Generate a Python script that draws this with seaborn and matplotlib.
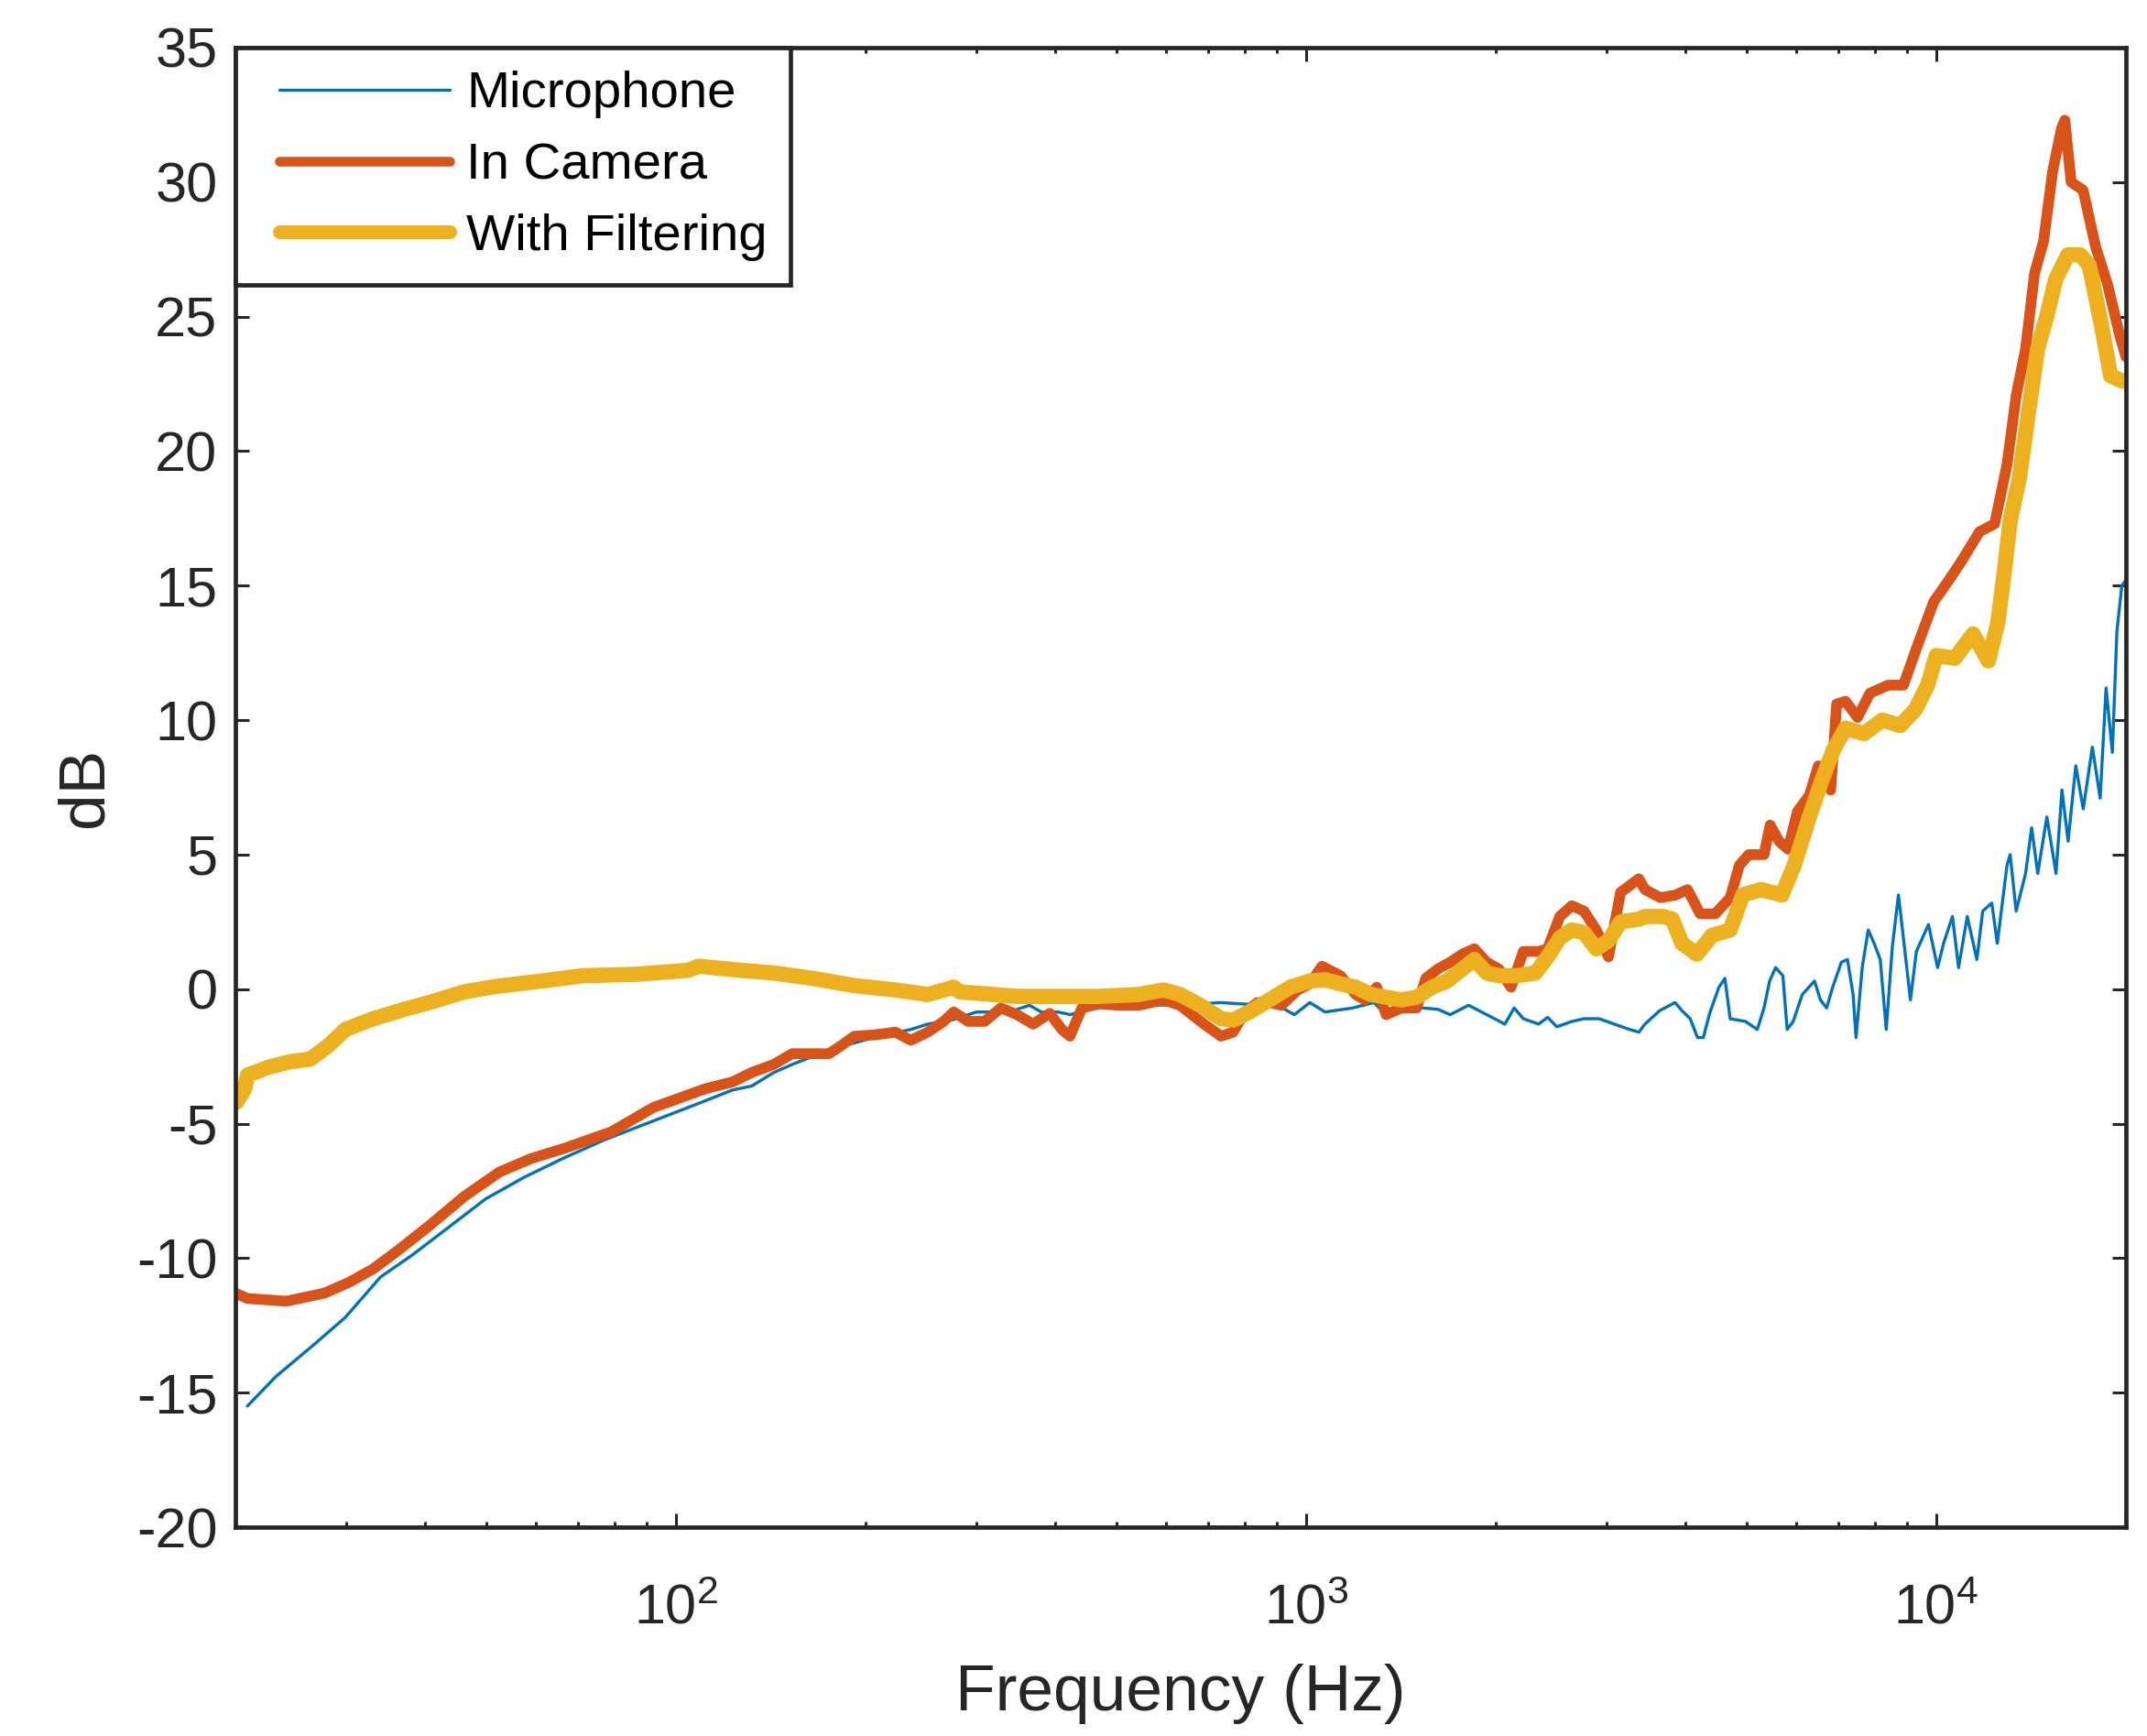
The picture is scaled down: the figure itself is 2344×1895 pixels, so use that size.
import matplotlib
matplotlib.use("Agg")
import matplotlib.pyplot as plt
import numpy as np
import pandas as pd
import seaborn as sns
from matplotlib.legend_handler import HandlerLine2D
from matplotlib.ticker import LogLocator, LogFormatterSciNotation, NullFormatter

# ---- data (frequency in Hz, level in dB) ----
mic_freq = [20.9, 23.2, 26.7, 29.9, 34.0, 38.1, 43.9, 49.9, 57.4, 66.1, 77.1, 92.1, 110,
            123, 132, 143, 153, 165, 175, 192, 210, 236, 251, 274, 300, 338, 364, 380, 404,
            423, 455, 513, 612, 679, 733, 789, 902, 958, 1014, 1072, 1186, 1282, 1326, 1417,
            1531, 1619, 1693, 1811, 1936, 2068, 2139, 2212, 2339, 2418, 2500, 2642, 2762,
            2919, 3084, 3263, 3374, 3450, 3640, 3850, 3950, 4070, 4180, 4270, 4370, 4520,
            4620, 4710, 4980, 5200, 5330, 5440, 5560, 5710, 5800, 5930, 6130, 6410, 6550,
            6700, 6850, 7070, 7230, 7380, 7460, 7630, 7800, 7970, 8150, 8330, 8520, 8710,
            8900, 9100, 9300, 9720, 10050, 10270, 10610, 10850, 11200, 11600, 11850, 12250,
            12500, 12950, 13100, 13390, 13860, 14170, 14490, 14980, 15490, 15830, 16190,
            16650, 17110, 17690, 18200, 18600, 19030, 19350, 19700, 20000]
mic_db = [-15.5, -14.4, -13.2, -12.2, -10.7, -9.9, -8.8, -7.8, -7.0, -6.3, -5.6, -4.9, -4.2,
          -3.75, -3.6, -3.1, -2.8, -2.5, -2.25, -2.0, -1.75, -1.5, -1.3, -1.15, -0.85, -0.85,
          -0.6, -0.85, -0.85, -0.95, -0.7, -0.55, -0.6, -0.55, -0.5, -0.55, -0.6, -0.95, -0.5,
          -0.85, -0.7, -0.5, -0.85, -0.85, -0.7, -0.75, -0.95, -0.6, -0.95, -1.3, -0.7, -1.1,
          -1.3, -1.05, -1.4, -1.2, -1.1, -1.1, -1.3, -1.5, -1.6, -1.3, -0.8, -0.5, -0.8, -1.1,
          -1.8, -1.8, -0.9, 0.07, 0.4, -1.1, -1.2, -1.5, -0.7, 0.3, 0.8, 0.5, -1.5, -1.2,
          -0.2, 0.3, -0.4, -0.7, 0.07, 1.0, 1.1, -0.2, -1.8, 0.8, 2.2, 1.7, 1.1, -1.5, 1.6,
          3.5, 1.6, -0.4, 1.4, 2.4, 0.8, 1.7, 2.7, 0.8, 2.7, 1.1, 2.9, 3.2, 1.7, 4.6, 5.0,
          2.9, 4.3, 6.0, 4.3, 6.4, 4.3, 7.4, 5.5, 8.3, 6.7, 9.0, 7.1, 11.2, 8.8, 13.3, 15.0,
          15.2]

cam_freq = [20.0, 20.9, 24.1, 27.7, 30.3, 33.1, 36.3, 40.6, 46.2, 52.5, 58.9, 66.9, 79.1,
            92.1, 111.5, 123, 132, 143, 153, 165, 175, 183, 192, 207, 223, 236, 251, 266,
            276, 291, 309, 328, 348, 369, 392, 410, 422, 441, 469, 505, 543, 594, 631, 659,
            689, 733, 766, 800, 837, 875, 914, 970, 1014, 1060, 1134, 1199, 1240, 1295,
            1340, 1417, 1498, 1549, 1619, 1693, 1770, 1850, 1935, 2023, 2115, 2212, 2339,
            2418, 2527, 2641, 2761, 2888, 3019, 3156, 3374, 3450, 3650, 3860, 4030, 4220,
            4460, 4710, 4870, 5040, 5330, 5450, 5630, 5820, 6020, 6290, 6500, 6800, 6950,
            7180, 7500, 7850, 8390, 8870, 9380, 9910, 10470, 10960, 11710, 12380, 12950,
            13400, 13860, 14320, 14800, 15300, 15800, 16000, 16370, 17100, 17900, 18700,
            19550, 20000]
cam_db = [-11.3, -11.5, -11.6, -11.3, -10.9, -10.4, -9.7, -8.8, -7.7, -6.8, -6.3, -5.9,
          -5.3, -4.4, -3.7, -3.45, -3.1, -2.8, -2.4, -2.4, -2.4, -2.1, -1.75, -1.7, -1.6,
          -1.9, -1.6, -1.2, -0.85, -1.2, -1.2, -0.7, -0.95, -1.3, -0.9, -1.5, -1.75, -0.7,
          -0.55, -0.6, -0.6, -0.4, -0.6, -0.95, -1.3, -1.75, -1.6, -0.85, -0.5, -0.5, -0.6,
          -0.03, 0.2, 0.85, 0.5, -0.2, -0.4, 0.07, -0.95, -0.7, -0.7, 0.4, 0.75, 1.0, 1.3,
          1.5, 1.0, 0.75, 0.07, 1.4, 1.4, 1.5, 2.7, 3.1, 2.9, 2.2, 1.2, 3.6, 4.1, 3.7, 3.4,
          3.5, 3.7, 2.8, 2.8, 3.4, 4.6, 5.0, 5.0, 6.1, 5.5, 5.2, 6.6, 7.2, 8.3, 7.4, 10.6,
          10.7, 10.1, 11.0, 11.3, 11.3, 12.9, 14.4, 15.2, 15.9, 17.0, 17.3, 19.5, 22.1,
          23.8, 26.6, 27.8, 30.4, 32.0, 32.3, 30.0, 29.7, 27.6, 26.2, 24.3, 23.5]

filt_freq = [20.1, 20.7, 20.9, 22.6, 24.4, 26.3, 28.1, 29.9, 33.1, 37.1, 40.6, 46.2, 51.8,
             61.2, 71.3, 86.3, 104.6, 108.7, 126.7, 143, 165, 192, 223, 251, 276, 282, 348,
             469, 543, 594, 631, 679, 733, 766, 813, 875, 944, 1014, 1072, 1134, 1199, 1268,
             1340, 1417, 1498, 1584, 1674, 1770, 1850, 1935, 2023, 2163, 2312, 2417, 2527,
             2641, 2761, 2888, 3019, 3156, 3374, 3450, 3690, 3813, 3950, 4170, 4410, 4710,
             4930, 5270, 5690, 5950, 6290, 6570, 6870, 7180, 7680, 8210, 8770, 9270, 9690,
             10000, 10700, 11440, 12100, 12520, 12820, 13100, 13550, 14000, 14480, 14970,
             15480, 16180, 16920, 17490, 18280, 18910, 19760, 20000]
filt_db = [-4.2, -3.7, -3.2, -2.9, -2.7, -2.6, -2.1, -1.5, -1.1, -0.75, -0.5, -0.1, 0.1,
           0.3, 0.5, 0.55, 0.7, 0.85, 0.7, 0.6, 0.4, 0.13, -0.03, -0.2, 0.07, -0.1, -0.27,
           -0.27, -0.2, -0.03, -0.2, -0.6, -1.1, -1.15, -0.85, -0.4, 0.07, 0.3, 0.35, 0.2,
           0.07, -0.2, -0.3, -0.4, -0.3, 0.07, 0.3, 0.75, 1.1, 0.6, 0.5, 0.5, 0.6, 1.2, 1.9,
           2.2, 2.1, 1.5, 1.8, 2.5, 2.6, 2.7, 2.7, 2.6, 1.7, 1.3, 2.0, 2.2, 3.5, 3.7, 3.5,
           4.6, 6.4, 7.7, 8.9, 9.7, 9.5, 10.0, 9.8, 10.4, 11.3, 12.4, 12.3, 13.2, 12.2,
           13.6, 15.5, 17.4, 19.0, 21.4, 23.8, 25.0, 26.4, 27.3, 27.3, 26.9, 24.7, 22.8,
           22.6, 22.6]

series_names = ["Microphone", "In Camera", "With Filtering"]
series_colors = ["#0072BD", "#D95319", "#EDB120"]
series_widths = [1.2, 4.2, 6.0]
legend_widths = [1.2, 3.8, 5.4]

y_ticks = list(range(-20, 36, 5))

df = pd.concat([
    pd.DataFrame({"freq": mic_freq, "db": mic_db, "series": series_names[0]}),
    pd.DataFrame({"freq": cam_freq, "db": cam_db, "series": series_names[1]}),
    pd.DataFrame({"freq": filt_freq, "db": filt_db, "series": series_names[2]}),
], ignore_index=True)

sns.set_style("ticks")
plt.rcParams["font.family"] = ["Liberation Sans", "DejaVu Sans"]
plt.rcParams["mathtext.fontset"] = "custom"
plt.rcParams["mathtext.rm"] = "Liberation Sans"
plt.rcParams["mathtext.it"] = "Liberation Sans:italic"
plt.rcParams["axes.unicode_minus"] = False

text_col = "#262626"

fig = plt.figure(figsize=(11.72, 9.475), dpi=200)
ax = fig.add_axes([0.1096, 0.1203, 0.8806, 0.8523])

for name, col, lw in zip(series_names, series_colors, series_widths):
    sns.lineplot(data=df[df["series"] == name], x="freq", y="db", color=col,
                 linewidth=lw, estimator=None, label=name, ax=ax)

ax.set_xscale("log")
ax.set_xlim(20, 20000)
ax.set_ylim(-20, 35)
ax.set_yticks(y_ticks)
ax.xaxis.set_major_locator(LogLocator(base=10))
ax.xaxis.set_major_formatter(LogFormatterSciNotation())
ax.xaxis.set_minor_locator(LogLocator(base=10, subs=np.arange(2, 10)))
ax.xaxis.set_minor_formatter(NullFormatter())

for s in ax.spines.values():
    s.set_visible(True)
    s.set_linewidth(1.7)
    s.set_color(text_col)

ax.tick_params(which="both", direction="in", top=True, right=True, color=text_col,
               labelcolor=text_col, labelsize=22, width=1.1)
ax.tick_params(which="major", length=5.4)
ax.tick_params(which="minor", length=2.2)
ax.tick_params(axis="x", which="major", pad=22)
ax.tick_params(axis="y", which="major", pad=7)

ax.set_xlabel("Frequency (Hz)", fontsize=25.7, color=text_col)
ax.set_ylabel("dB", fontsize=25.7, color=text_col)
ax.xaxis.set_label_coords(0.5, -0.092)
ax.yaxis.set_label_coords(-0.063, 0.5)

handles, labels = ax.get_legend_handles_labels()
leg = ax.legend(handles, labels, loc="upper left", bbox_to_anchor=(0, 1), borderaxespad=0,
                fancybox=False, framealpha=1, edgecolor=text_col, fontsize=20.3,
                handlelength=3.7, handletextpad=0.32, borderpad=0.45, labelspacing=0.46,
                handler_map={h: HandlerLine2D(xpad=0.4) for h in handles})
leg.get_frame().set_linewidth(1.7)
for t in leg.get_texts():
    t.set_color("#000000")
for lh, lw in zip(leg.get_lines(), legend_widths):
    lh.set_linewidth(lw)

fig.savefig("out.png", dpi=200, facecolor="white")
